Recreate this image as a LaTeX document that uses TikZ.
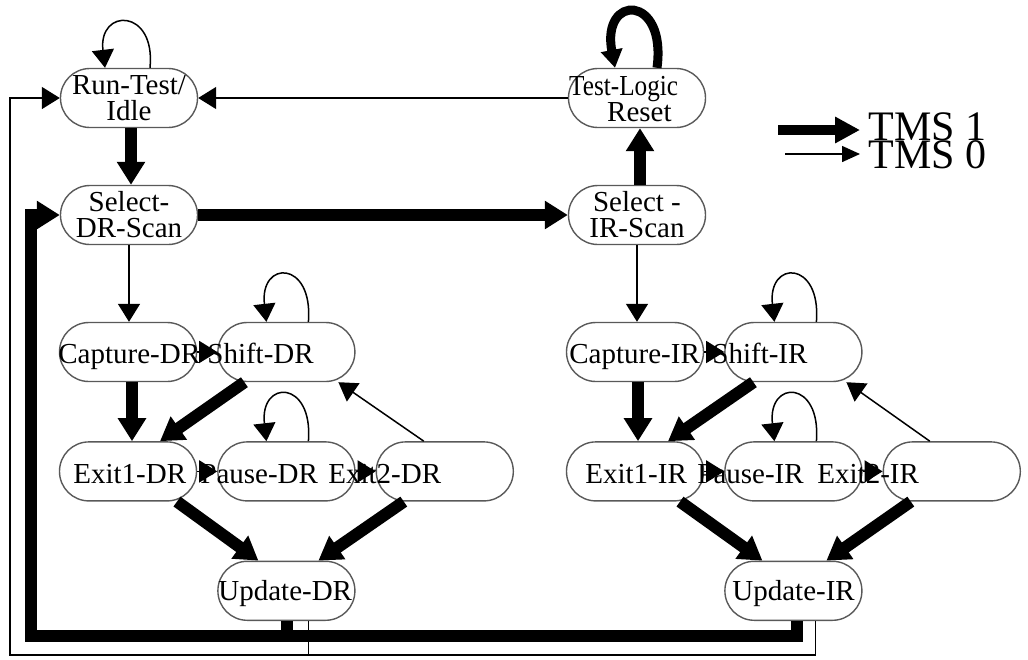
\documentclass[tikz,border=0pt]{standalone}
\usepackage{fontspec}
\setmainfont{Liberation Serif}
\usepackage{graphicx}
\usetikzlibrary{positioning,calc,arrows.meta}

\begin{document}
\begin{tikzpicture}[
    x=0.5pt, y=-0.5pt,
    node distance=29.5pt and 10pt,
    every node/.style={font=\fontsize{14.5}{13}\selectfont},
    tapstate/.style={rectangle, draw=black!65, line width=0.7pt, minimum width=68.5pt, minimum height=29.5pt, inner sep=0pt, rounded corners=14.7pt},
    lbl/.style={anchor=base west, inner sep=0pt},
    lbltwo/.style={align=center, inner sep=0pt},
    tmsone/.style={line width=6pt, -{Triangle[length=11.5pt, width=13.5pt]}},
    tmsonestub/.style={line width=6pt},
    tmszero/.style={line width=0.75pt, -{Triangle[length=9pt, width=11pt]}},
    tmszerostub/.style={line width=0.75pt},
    legendtext/.style={font=\fontsize{21}{14}\selectfont, anchor=base west, inner sep=0pt}
]
\useasboundingbox (0,0) rectangle (1028,659);

% ============ TOP ROW ============
\node[tapstate] (rti) at (129,98) {};
\node[lbltwo] (rti-t) at (rti) {Run-Test/\\Idle};
\node[tapstate] (sdr) at (129,215) {};
\node[lbltwo] (sdr-t) at (sdr) {Select-\\DR-Scan};
\node[tapstate] (tlr) at (637,98) {};
\node[lbltwo, align=left, anchor=west] (tlr-t) at ($(tlr.west)+(1,1)$) {\scalebox{0.87}[1]{Test-Logic}\\\hspace*{19pt}Reset};
\node[tapstate] (sir) at (637,215) {};
\node[lbltwo] (sir-t) at (sir) {Select -\\IR-Scan};

% ============ DR COLUMN ============
\node[tapstate] (capdr) at (128,352) {};
\node[tapstate, right=of capdr] (shiftdr) {};
\node[tapstate, below=of capdr] (exit1dr) {};
\node[tapstate, right=of exit1dr] (pausedr) {};
\node[tapstate, right=of pausedr] (exit2dr) {};
\node[tapstate, below=of pausedr] (updatedr) {};

\node[lbl] (capdr-t) at (58,363) {Capture-DR};
\node[lbl] (shiftdr-t) at (207,363) {Shift-DR};
\node[lbl] (exit1dr-t) at (73,483) {Exit1-DR};
\node[lbl] (pausedr-t) at (200,483) {Pause-DR};
\node[lbl] (exit2dr-t) at (328,483) {Exit2-DR};
\node[lbl] (updatedr-t) at (218,600) {Update-DR};

% ============ IR COLUMN ============
\node[tapstate] (capir) at (635,352) {};
\node[tapstate, right=of capir] (shiftir) {};
\node[tapstate, below=of capir] (exit1ir) {};
\node[tapstate, right=of exit1ir] (pauseir) {};
\node[tapstate, right=of pauseir] (exit2ir) {};
\node[tapstate, below=of pauseir] (updateir) {};

\node[lbl] (capir-t) at (569,363) {Capture-IR};
\node[lbl] (shiftir-t) at (712,363) {Shift-IR};
\node[lbl] (exit1ir-t) at (585,483) {Exit1-IR};
\node[lbl] (pauseir-t) at (697,483) {Pause-IR};
\node[lbl] (exit2ir-t) at (817,483) {Exit2-IR};
\node[lbl] (updateir-t) at (732,600) {Update-IR};

% corners of the return paths
\coordinate (thickcorner) at (31,636);
\coordinate (thincorner) at (10,655);

% ============ TMS 1 ARROWS ============
\draw[tmsone] ($(rti.south)+(2,0)$) -- ($(sdr.north)+(2,0)$);
\draw[tmsone] (sdr.east) -- (sir.west);
\draw[tmsone] ($(sir.north)+(3,0)$) -- ($(tlr.south)+(3,0)$);
\draw[tmsone, line width=4.5pt, -{Triangle[length=9pt, width=10.5pt]}] ($(tlr.north)+(20,0)$) .. controls +(10,-74) and +(-14,-74) .. ($(tlr.north)+(-22,0)$);

\draw[tmsone] ($(capdr.south)+(4,0)$) -- ($(exit1dr.north)+(4,0)$);
\draw[tmsone] ($(shiftdr.south)+(-42,0)$) -- ($(exit1dr.north)+(32,0)$);
\draw[tmsone] ($(exit1dr.south)+(49,0)$) -- ($(updatedr.north)+(-28,0)$);
\draw[tmsone] ($(exit2dr.south)+(-41,0)$) -- ($(updatedr.north)+(32,0)$);

\draw[tmsone] ($(capir.south)+(3,0)$) -- ($(exit1ir.north)+(3,0)$);
\draw[tmsone] ($(shiftir.south)+(-40,0)$) -- ($(exit1ir.north)+(33,0)$);
\draw[tmsone] ($(exit1ir.south)+(45,0)$) -- ($(updateir.north)+(-31,0)$);
\draw[tmsone] ($(exit2ir.south)+(-41,0)$) -- ($(updateir.north)+(33,0)$);

\draw[tmsone] ($(updateir.south)+(4,0)$) |- (thickcorner) |- (sdr.west);
\draw[tmsonestub] ($(updatedr.south)+(1,0)$) -- ($(updatedr.south |- thickcorner)+(1,0)$);

% ============ TMS 0 ARROWS ============
\draw[tmszero] (tlr.west) -- (rti.east);
\draw[tmszero] ($(rti.north)+(21,0)$) .. controls +(6,-60) and +(-7,-60) .. ($(rti.north)+(-24,0)$);
\draw[tmszero] (sdr.south) -- (sdr.south |- capdr.north);
\draw[tmszero] (sir.south) -- (sir.south |- capir.north);

\draw[tmszero] (capdr.east) -- (shiftdr.west);
\draw[tmszero] ($(shiftdr.north)+(22,0)$) .. controls +(5,-62) and +(-7,-62) .. ($(shiftdr.north)+(-20,0)$);
\draw[tmszero] (exit1dr.east) -- (pausedr.west);
\draw[tmszero] ($(pausedr.north)+(22,0)$) .. controls +(5,-62) and +(-7,-62) .. ($(pausedr.north)+(-20,0)$);
\draw[tmszero] (pausedr.east) -- (exit2dr.west);
\draw[tmszero] ($(exit2dr.north)+(-21,0)$) -- ($(shiftdr.south)+(52,0)$);

\draw[tmszero] (capir.east) -- (shiftir.west);
\draw[tmszero] ($(shiftir.north)+(23,0)$) .. controls +(5,-62) and +(-7,-62) .. ($(shiftir.north)+(-19,0)$);
\draw[tmszero] (exit1ir.east) -- (pauseir.west);
\draw[tmszero] ($(pauseir.north)+(23,0)$) .. controls +(5,-62) and +(-7,-62) .. ($(pauseir.north)+(-19,0)$);
\draw[tmszero] (pauseir.east) -- (exit2ir.west);
\draw[tmszero] ($(exit2ir.north)+(-22,0)$) -- ($(shiftir.south)+(53,0)$);

\draw[tmszero] ($(updateir.south)+(22,0)$) |- (thincorner) |- (rti.west);
\draw[tmszerostub] ($(updatedr.south)+(22,0)$) -- ($(updatedr.south |- thincorner)+(22,0)$);

% ============ LEGEND ============
\coordinate (legonea) at (778,130);
\coordinate (legoneb) at (860,130);
\coordinate (legzeroa) at (785,154);
\coordinate (legzerob) at (860,154);
\draw[tmsone, line width=5pt, -{Triangle[length=12.5pt, width=12.5pt]}] (legonea) -- (legoneb);
\draw[tmszero, -{Triangle[length=9pt, width=8pt]}] (legzeroa) -- (legzerob);
\node[legendtext] (tmsone-t) at (868,140) {TMS 1};
\node[legendtext] (tmszero-t) at (868,168) {TMS 0};

\end{tikzpicture}
\end{document}
